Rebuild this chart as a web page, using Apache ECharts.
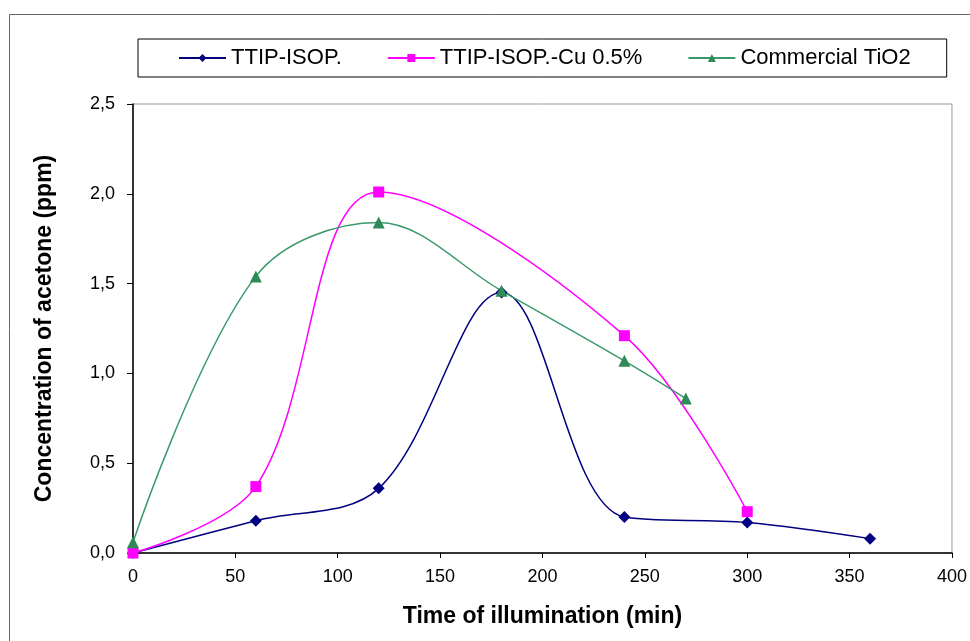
<!DOCTYPE html>
<html>
<head>
<meta charset="utf-8">
<script src="https://cdn.jsdelivr.net/npm/echarts@6/dist/echarts.min.js"></script>
<style>
  html, body { margin: 0; padding: 0; background: #fff; }
  #chart { width: 970px; height: 641px; }
</style>
</head>
<body>
<div id="chart"></div>
<script>
  // time (min) / concentration (ppm)
  var ttipTime = [0, 60, 120, 180, 240, 300, 360];
  var ttipConc = [0.0, 0.18, 0.36, 1.45, 0.20, 0.17, 0.08];

  var cuTime = [0, 60, 120, 240, 300];
  var cuConc = [0.0, 0.37, 2.01, 1.21, 0.23];

  var tioTime = [0, 60, 120, 180, 240, 270];
  var tioConc = [0.06, 1.54, 1.84, 1.46, 1.07, 0.86];

  var seriesNames = ['TTIP-ISOP.', 'TTIP-ISOP.-Cu 0.5%', 'Commercial TiO2'];

  function pairs(xs, ys) {
    return xs.map(function (x, i) { return [x, ys[i]]; });
  }

  var chart = echarts.init(document.getElementById('chart'));
  var font = 'Liberation Sans, Arial, sans-serif';

  chart.setOption({
    animation: false,
    textStyle: { fontFamily: font },
    graphic: [
      {
        type: 'rect',
        shape: { x: 9.5, y: 14.5, width: 1000, height: 700 },
        style: { fill: 'none', stroke: '#666', lineWidth: 1 }
      }
    ],
    legend: {
      left: 138,
      top: 39,
      padding: [8, 36, 8, 40],
      itemGap: 45,
      itemWidth: 47,
      itemHeight: 10,
      borderColor: '#000',
      borderWidth: 1,
      textStyle: { fontSize: 22, color: '#000', fontFamily: font },
      data: seriesNames
    },
    grid: {
      left: 133,
      right: 17,
      top: 104,
      bottom: 88,
      show: true,
      borderColor: '#999',
      borderWidth: 1
    },
    xAxis: {
      type: 'value',
      min: 0,
      max: 400,
      interval: 50,
      name: 'Time of illumination (min)',
      nameLocation: 'middle',
      nameGap: 52,
      nameTextStyle: { fontSize: 23, fontWeight: 'bold', color: '#000', fontFamily: font },
      axisLine: { lineStyle: { color: '#000', width: 1.5 } },
      axisTick: { show: true, length: 5, lineStyle: { color: '#000' } },
      axisLabel: { fontSize: 18, color: '#000', margin: 15 },
      splitLine: { show: false }
    },
    yAxis: {
      type: 'value',
      min: 0,
      max: 2.5,
      interval: 0.5,
      name: 'Concentration of acetone (ppm)',
      nameLocation: 'middle',
      nameGap: 77,
      nameTextStyle: { fontSize: 23, fontWeight: 'bold', color: '#000', fontFamily: font },
      axisLine: { show: true, lineStyle: { color: '#000', width: 1.5 } },
      axisTick: { show: true, length: 6, lineStyle: { color: '#000' } },
      axisLabel: {
        fontSize: 18,
        color: '#000',
        margin: 18,
        formatter: function (v) { return v.toFixed(1).replace('.', ','); }
      },
      splitLine: { show: false }
    },
    series: [
      {
        name: seriesNames[0],
        type: 'line',
        smooth: 0.35,
        symbol: 'diamond',
        symbolSize: 12,
        itemStyle: { color: '#000080' },
        lineStyle: { color: '#000080', width: 1.5 },
        data: pairs(ttipTime, ttipConc)
      },
      {
        name: seriesNames[1],
        type: 'line',
        smooth: 0.35,
        symbol: 'rect',
        symbolSize: 11,
        itemStyle: { color: '#ff00ff' },
        lineStyle: { color: '#ff00ff', width: 1.5 },
        data: pairs(cuTime, cuConc)
      },
      {
        name: seriesNames[2],
        type: 'line',
        smooth: 0.35,
        symbol: 'triangle',
        symbolSize: 12,
        itemStyle: { color: '#2e8b57' },
        lineStyle: { color: '#3a9a6a', width: 1.5 },
        data: pairs(tioTime, tioConc)
      }
    ]
  });
</script>
</body>
</html>
